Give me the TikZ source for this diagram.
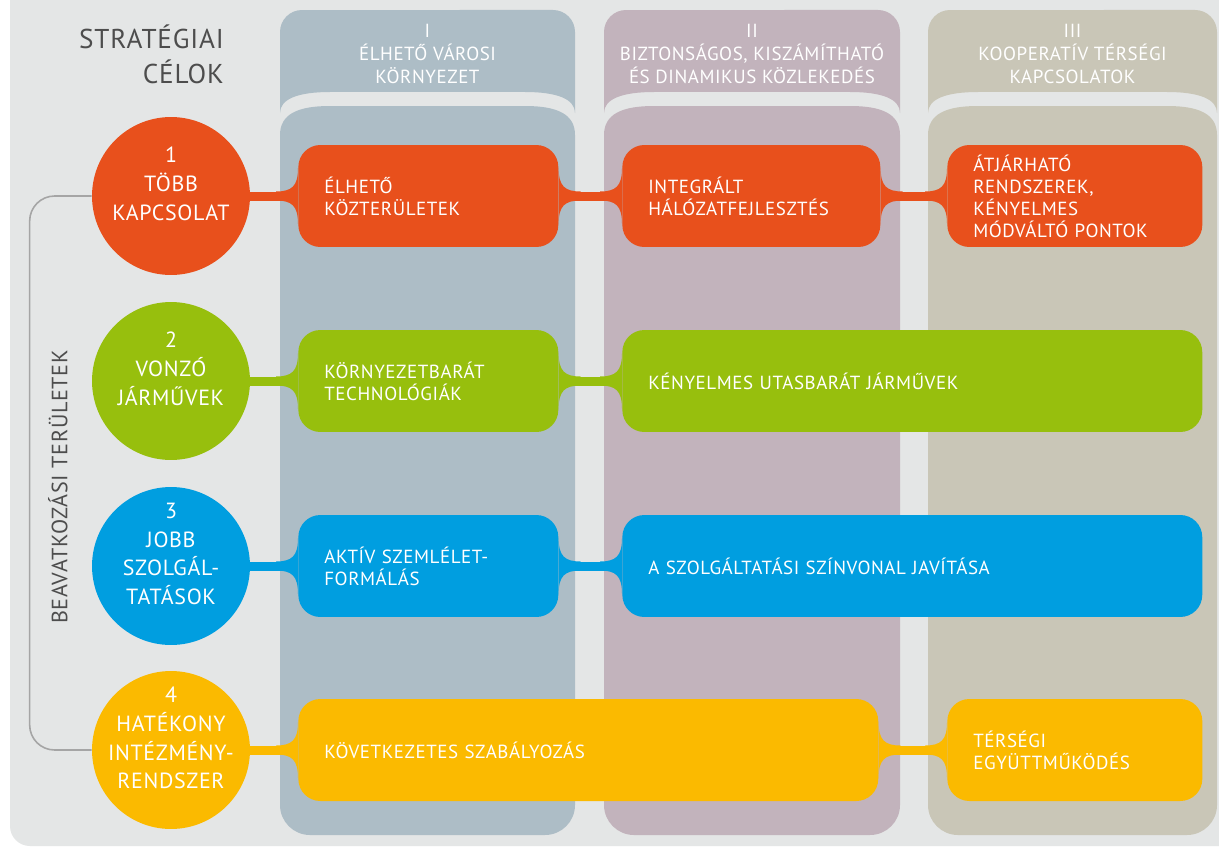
\documentclass[tikz,border=0pt]{standalone}
\usepackage{fontspec}
\setmainfont{PT Sans}[LetterSpace=3]

\definecolor{paper}{HTML}{E4E6E6}
\definecolor{colone}{HTML}{ADBDC6}
\definecolor{coltwo}{HTML}{C2B3BC}
\definecolor{colthree}{HTML}{C9C6B7}
\definecolor{goalorange}{HTML}{E8501C}
\definecolor{goalgreen}{HTML}{97BF0D}
\definecolor{goalblue}{HTML}{009EE0}
\definecolor{goalyellow}{HTML}{FBBA00}
\definecolor{inkgray}{HTML}{4D4D4D}
\definecolor{linegray}{HTML}{A5A5A5}

\tikzset{
  goal/.style={circle, fill=#1, minimum size=3.16cm, inner sep=0pt},
  goaltext/.style={text=white, align=center, yshift=0.24cm, font=\fontsize{12.5}{16.4}\selectfont},
  cell/.style={rectangle, rounded corners=0.44cm, fill=#1, minimum height=2.04cm, inner xsep=0.52cm,
    anchor=west, text=white, align=left, font=\fontsize{10.8}{12.5}\selectfont},
  headtext/.style={text=white, align=center, font=\fontsize{10.8}{13}\selectfont},
  link/.style={draw=#1, line width=0.18cm},
  bracket/.style={draw=linegray, line width=0.9pt, rounded corners=0.5cm},
  bigtitle/.style={text=inkgray, font=\fontsize{15.5}{19.8}\selectfont},
}

% concave widening where a link meets a box side
\newcommand{\flare}[3]{%
  \fill[#3] ([shift={(0,-28)}]#1) .. controls ([shift={(0,-10)}]#1) and ([shift={(#2*6,-4.5)}]#1) .. ([shift={(#2*22,-4.5)}]#1)
    -- ([shift={(#2*22,4.5)}]#1) .. controls ([shift={(#2*6,4.5)}]#1) and ([shift={(0,10)}]#1) .. ([shift={(0,28)}]#1) -- cycle;}

\begin{document}
\begin{tikzpicture}[x=0.02cm, y=-0.02cm]
  \useasboundingbox (0,0) rectangle (1219,855);
  \fill[white] (0,0) rectangle (1219,855);
  \fill[paper, rounded corners=0.4cm] (10,-40) rectangle (1260,846);

  % columns
  \foreach \xa/\xb/\colr/\title [count=\i] in {280/575/colone/{I\\ÉLHETŐ VÁROSI\\KÖRNYEZET},
      604/900/coltwo/{II\\BIZTONSÁGOS, KISZÁMÍTHATÓ\\ÉS DINAMIKUS KÖZLEKEDÉS},
      928/1217/colthree/{III\\KOOPERATÍV TÉRSÉGI\\KAPCSOLATOK}} {
    \fill[\colr] (\xa,113) -- (\xa,32) arc[start angle=180, end angle=90, radius=0.44cm]
      -- (\xb-22,10) arc[start angle=90, end angle=0, radius=0.44cm] -- (\xb,113)
      .. controls (\xb,99) and (\xb-18,92) .. (\xb-50,92) -- (\xa+50,92)
      .. controls (\xa+18,92) and (\xa,99) .. cycle;
    \fill[\colr] (\xa,135) .. controls (\xa,114) and (\xa+18,106) .. (\xa+50,106)
      -- (\xb-50,106) .. controls (\xb-18,106) and (\xb,114) .. (\xb,135)
      -- (\xb,805) arc[start angle=0, end angle=-90, radius=0.6cm]
      -- (\xa+30,835) arc[start angle=270, end angle=180, radius=0.6cm] -- cycle;
    \node[headtext] (head\i) at ({(\xa+\xb)/2},54) {\title};
  }

  \node[bigtitle, align=right, anchor=east] (goals) at (230,54) {STRATÉGIAI\\CÉLOK};
  \node[bigtitle, font=\fontsize{12.6}{14}\selectfont, rotate=90] (areas) at (58,487) {BEAVATKOZÁSI TERÜLETEK};

  % strategic goals
  \node[goal=goalorange, label={[goaltext]center:1\\TÖBB\\KAPCSOLAT}] (g1) at (171,196) {};
  \node[goal=goalgreen, label={[goaltext]center:2\\VONZÓ\\JÁRMŰVEK}] (g2) at (171,381) {};
  \node[goal=goalblue, label={[goaltext]center:3\\JOBB\\SZOLGÁL-\\TATÁSOK}] (g3) at (171,566) {};
  \node[goal=goalyellow, label={[goaltext]center:4\\HATÉKONY\\INTÉZMÉNY-\\RENDSZER}] (g4) at (171,750) {};

  \draw[bracket] (g1.west) -- ++(-62,0) |- (g4.west);

  % intervention areas
  \node[cell=goalorange, text width=4.16cm] (b1a) at (298,196) {ÉLHETŐ\\KÖZTERÜLETEK};
  \node[cell=goalorange, text width=4.12cm] (b1b) at (622,196) {INTEGRÁLT\\HÁLÓZATFEJLESZTÉS};
  \node[cell=goalorange, text width=4.06cm] (b1c) at (947,196) {ÁTJÁRHATÓ\\RENDSZEREK,\\KÉNYELMES\\MÓDVÁLTÓ PONTOK};

  \node[cell=goalgreen, text width=4.16cm] (b2a) at (298,381) {KÖRNYEZETBARÁT\\TECHNOLÓGIÁK};
  \node[cell=goalgreen, text width=10.56cm] (b2b) at (622,381) {KÉNYELMES UTASBARÁT JÁRMŰVEK};

  \node[cell=goalblue, text width=4.16cm] (b3a) at (298,566) {AKTÍV SZEMLÉLET-\\FORMÁLÁS};
  \node[cell=goalblue, text width=10.56cm] (b3b) at (622,566) {A SZOLGÁLTATÁSI SZÍNVONAL JAVÍTÁSA};

  \node[cell=goalyellow, text width=10.56cm] (b4a) at (298,750) {KÖVETKEZETES SZABÁLYOZÁS};
  \node[cell=goalyellow, text width=4.06cm] (b4b) at (947,750) {TÉRSÉGI\\EGYÜTTMŰKÖDÉS};

  % links
  \draw[link=goalorange] (g1) -- (b1a);
  \draw[link=goalorange] (b1a) -- (b1b);
  \draw[link=goalorange] (b1b) -- (b1c);
  \flare{b1a.west}{-1}{goalorange}
  \flare{b1a.east}{1}{goalorange}
  \flare{b1b.west}{-1}{goalorange}
  \flare{b1b.east}{1}{goalorange}
  \flare{b1c.west}{-1}{goalorange}

  \draw[link=goalgreen] (g2) -- (b2a);
  \draw[link=goalgreen] (b2a) -- (b2b);
  \flare{b2a.west}{-1}{goalgreen}
  \flare{b2a.east}{1}{goalgreen}
  \flare{b2b.west}{-1}{goalgreen}

  \draw[link=goalblue] (g3) -- (b3a);
  \draw[link=goalblue] (b3a) -- (b3b);
  \flare{b3a.west}{-1}{goalblue}
  \flare{b3a.east}{1}{goalblue}
  \flare{b3b.west}{-1}{goalblue}

  \draw[link=goalyellow] (g4) -- (b4a);
  \draw[link=goalyellow] (b4a) -- (b4b);
  \flare{b4a.west}{-1}{goalyellow}
  \flare{b4a.east}{1}{goalyellow}
  \flare{b4b.west}{-1}{goalyellow}
\end{tikzpicture}
\end{document}
